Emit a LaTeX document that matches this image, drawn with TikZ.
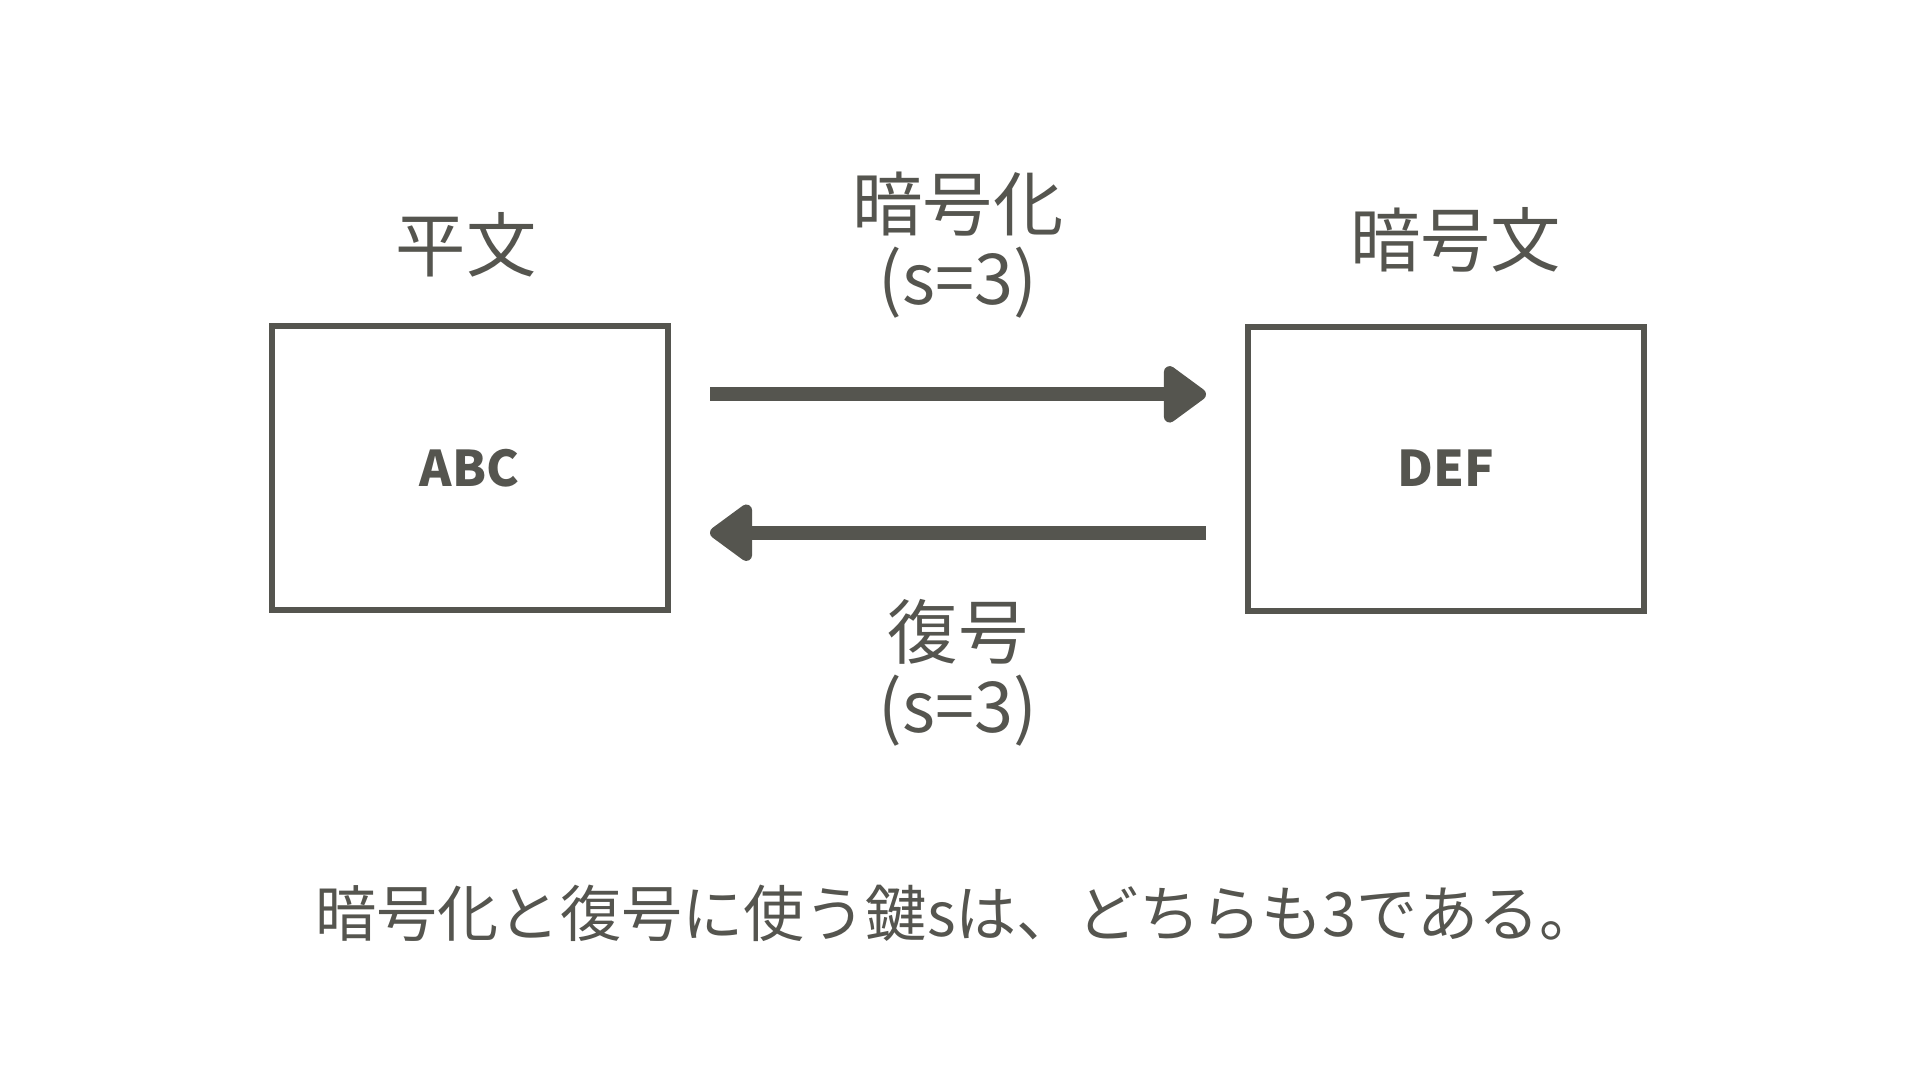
\documentclass[tikz,border=0pt]{standalone}
\usepackage{fontspec}
\setmainfont{Noto Sans CJK JP}
\usetikzlibrary{arrows.meta}
\definecolor{ink}{HTML}{55554F}
\tikzset{
  textbox/.style={draw=ink, line width=0.6mm, minimum width=39.6mm, minimum height=28.4mm, inner sep=0pt, text=ink, font=\fontsize{14pt}{17pt}\selectfont\bfseries},
  title/.style={text=ink, inner sep=0pt, font=\fontsize{20pt}{24pt}\selectfont},
  fatarrow/.style={draw=ink, line width=1.4mm, -{Triangle[length=4.65mm, width=6.45mm, round]}},
}
\begin{document}
\begin{tikzpicture}[x=0.1mm, y=-0.1mm]
\useasboundingbox[fill=white] (0,0) rectangle (1920,1080);
\node[textbox] (plain) at (469.5,468.3) {ABC};
\node[textbox] (cipher) at (1446,468.5) {DEF};
\node[title] (plainlbl) at (466,245) {平文};
\node[title] (cipherlbl) at (1455.7,240.3) {暗号文};
\node[title, align=center, font=\fontsize{20pt}{21.2pt}\selectfont] (enclbl) at (958,245) {暗号化\\(s=3)};
\node[title, align=center, font=\fontsize{20pt}{21.2pt}\selectfont] (declbl) at (958,673) {復号\\(s=3)};
\coordinate (encA) at (710,394.3);
\coordinate (encB) at (1206,394.3);
\coordinate (decA) at (1206,532.7);
\coordinate (decB) at (710,532.7);
\draw[fatarrow] (encA) -- (encB);
\draw[fatarrow] (decA) -- (decB);
\node[title, font=\fontsize{17.4pt}{20pt}\selectfont] (note) at (958,913) {暗号化と復号に使う鍵sは、どちらも3である。};
\end{tikzpicture}
\end{document}
